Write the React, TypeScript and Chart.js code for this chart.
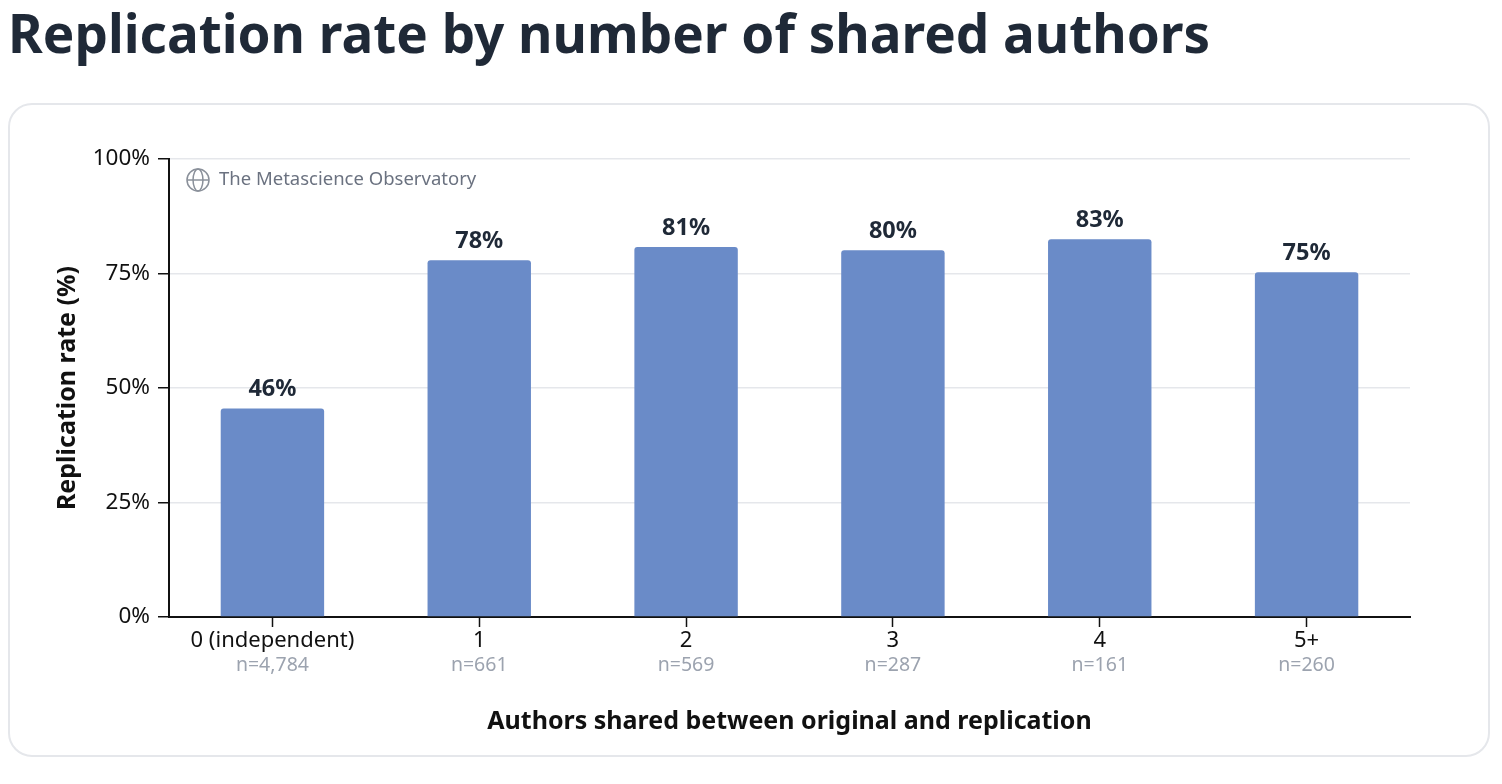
import { useEffect, useRef } from "react"
import { Chart, registerables } from "chart.js"
import type { Plugin } from "chart.js"

Chart.register(...registerables)

const categories = ["0 (independent)", "1", "2", "3", "4", "5+"]
const sampleSizes = ["n=4,784", "n=661", "n=569", "n=287", "n=161", "n=260"]
const replicationRates = [45.5, 77.9, 80.8, 80.1, 82.5, 75.3]
const yTickValues = [0, 25, 50, 75, 100]

const FONT = "'Noto Sans', 'Open Sans', sans-serif"
const BAR_COLOR = "#6a8bc8"

const barLabels: Plugin<"bar"> = {
  id: "barLabels",
  afterDatasetsDraw(chart) {
    const { ctx } = chart
    const meta = chart.getDatasetMeta(0)
    ctx.save()
    ctx.font = `bold 23.5px ${FONT}`
    ctx.fillStyle = "#1f2937"
    ctx.textAlign = "center"
    ctx.textBaseline = "middle"
    meta.data.forEach((bar, i) => {
      ctx.fillText(`${Math.round(replicationRates[i])}%`, bar.x, bar.y - 19)
    })
    ctx.restore()
  },
}

const sampleLabels: Plugin<"bar"> = {
  id: "sampleLabels",
  afterDraw(chart) {
    const { ctx } = chart
    const x = chart.scales.x
    ctx.save()
    ctx.font = `19.5px ${FONT}`
    ctx.fillStyle = "#9ca3af"
    ctx.textAlign = "center"
    ctx.textBaseline = "middle"
    sampleSizes.forEach((s, i) => {
      ctx.fillText(s, x.getPixelForValue(i), chart.chartArea.bottom + 48)
    })
    ctx.restore()
  },
}

const watermark: Plugin<"bar"> = {
  id: "watermark",
  afterDraw(chart) {
    const { ctx, chartArea } = chart
    const cx = chartArea.left + 29
    const cy = chartArea.top + 21
    const r = 11
    ctx.save()
    ctx.strokeStyle = "#8a909a"
    ctx.lineWidth = 1.5
    ctx.beginPath()
    ctx.arc(cx, cy, r, 0, Math.PI * 2)
    ctx.stroke()
    ctx.beginPath()
    ctx.ellipse(cx, cy, r * 0.45, r, 0, 0, Math.PI * 2)
    ctx.stroke()
    ctx.beginPath()
    ctx.moveTo(cx - r, cy)
    ctx.lineTo(cx + r, cy)
    ctx.stroke()
    ctx.font = `18.5px ${FONT}`
    ctx.fillStyle = "#6b7280"
    ctx.textAlign = "left"
    ctx.textBaseline = "middle"
    ctx.fillText("The Metascience Observatory", cx + 21, cy)
    ctx.restore()
  },
}

function ReplicationChart() {
  const canvasRef = useRef<HTMLCanvasElement>(null)
  const chartRef = useRef<Chart<"bar"> | null>(null)

  useEffect(() => {
    if (!canvasRef.current) return
    if (chartRef.current) chartRef.current.destroy()

    chartRef.current = new Chart(canvasRef.current, {
      type: "bar",
      data: {
        labels: categories,
        datasets: [
          {
            data: replicationRates,
            backgroundColor: BAR_COLOR,
            borderRadius: 3,
            categoryPercentage: 1,
            barPercentage: 0.5,
          },
        ],
      },
      plugins: [barLabels, sampleLabels, watermark],
      options: {
        responsive: true,
        maintainAspectRatio: false,
        animation: false,
        layout: { padding: { left: 20, right: 78, top: 54, bottom: 10 } },
        plugins: {
          legend: { display: false },
          tooltip: { enabled: false },
        },
        scales: {
          x: {
            afterFit: (scale) => {
              scale.height = 128
            },
            grid: {
              drawOnChartArea: false,
              offset: false,
              tickLength: 10,
              tickColor: "#111",
              tickWidth: 1.5,
            },
            border: { color: "#111", width: 2 },
            ticks: { color: "#111", padding: 1, font: { family: FONT, size: 22 } },
            title: {
              display: true,
              text: "Authors shared between original and replication",
              color: "#111",
              font: { family: FONT, size: 25, weight: "bold" },
              padding: { top: 0, bottom: 8 },
            },
          },
          y: {
            min: 0,
            max: 100,
            afterFit: (scale) => {
              scale.width = 139
            },
            afterBuildTicks: (scale) => {
              scale.ticks = yTickValues.map((v) => ({ value: v }))
            },
            grid: {
              color: "#e5e7eb",
              lineWidth: 1.5,
              tickLength: 11,
              tickColor: "#111",
              tickWidth: 1.5,
            },
            border: { color: "#111", width: 2 },
            ticks: {
              color: "#111",
              padding: 8,
              font: { family: FONT, size: 22.5 },
              callback: (v) => `${v}%`,
            },
            title: {
              display: true,
              text: "Replication rate (%)",
              color: "#111",
              font: { family: FONT, size: 25, weight: "bold" },
              padding: { top: 23, bottom: 0 },
            },
          },
        },
      },
    })

    return () => {
      if (chartRef.current) chartRef.current.destroy()
      chartRef.current = null
    }
  }, [])

  return <canvas ref={canvasRef} />
}

export default function App() {
  return (
    <div style={{ fontFamily: FONT, width: 1482 }}>
      <div style={{ height: 95 }}>
        <h1
          style={{
            margin: 0,
            fontSize: 53,
            lineHeight: "50px",
            fontWeight: 700,
            color: "#1f2937",
            whiteSpace: "nowrap",
          }}
        >
          Replication rate by number of shared authors
        </h1>
      </div>
      <div
        style={{
          position: "relative",
          boxSizing: "border-box",
          height: 654,
          border: "2px solid #e5e7eb",
          borderRadius: 24,
          background: "#fff",
        }}
      >
        <div style={{ position: "absolute", left: 0, top: 0, width: 1478, height: 650 }}>
          <ReplicationChart />
        </div>
      </div>
    </div>
  )
}
